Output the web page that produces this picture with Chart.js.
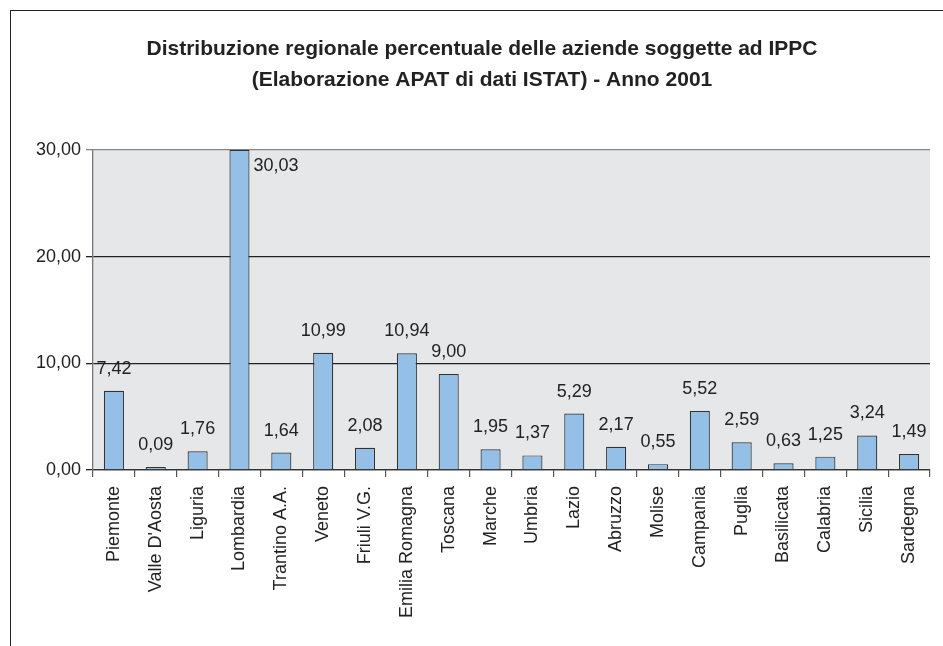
<!DOCTYPE html>
<html>
<head>
<meta charset="utf-8">
<script src="https://cdn.jsdelivr.net/npm/chart.js@4/dist/chart.umd.min.js"></script>
<style>
  html, body { margin: 0; padding: 0; background: #fff; }
  #wrap { position: relative; width: 943px; height: 646px; }
  #frame { position: absolute; left: 10px; top: 10px; width: 940px; height: 640px;
           border-top: 1.5px solid #222; border-left: 1.5px solid #222; }
  canvas { position: absolute; left: 0; top: 0; }
</style>
</head>
<body>
<div id="wrap">
  <div id="frame"></div>
  <canvas id="chart" width="943" height="646"></canvas>
</div>
<script>
const regions = ["Piemonte", "Valle D'Aosta", "Liguria", "Lombardia", "Trantino A.A.", "Veneto",
  "Friuli V.G.", "Emilia Romagna", "Toscana", "Marche", "Umbria", "Lazio", "Abruzzo", "Molise",
  "Campania", "Puglia", "Basilicata", "Calabria", "Sicilia", "Sardegna"];
const percentages = [7.42, 0.09, 1.76, 30.03, 1.64, 10.99, 2.08, 10.94, 9.00, 1.95, 1.37, 5.29,
  2.17, 0.55, 5.52, 2.59, 0.63, 1.25, 3.24, 1.49];
const yTicks = [0, 10, 20, 30];
const titleLines = ["Distribuzione regionale percentuale delle aziende soggette ad IPPC",
  "(Elaborazione APAT di dati ISTAT) - Anno 2001"];

const fmt = v => v.toFixed(2).replace('.', ',');
const FONT = "Arial, 'Liberation Sans', sans-serif";

// grey plot background
const plotBg = {
  id: 'plotBg',
  beforeDraw(chart) {
    const { ctx, chartArea: a } = chart;
    ctx.save();
    ctx.fillStyle = '#e6e7e9';
    ctx.fillRect(a.left, a.top, a.right - a.left, a.bottom - a.top);
    ctx.restore();
  }
};

// value labels above the bars (beside the bar when it runs past the top)
const valueLabels = {
  id: 'valueLabels',
  afterDatasetsDraw(chart) {
    const { ctx, chartArea } = chart;
    const meta = chart.getDatasetMeta(0);
    ctx.save();
    ctx.font = '18px ' + FONT;
    ctx.fillStyle = '#222';
    meta.data.forEach((bar, i) => {
      const txt = fmt(percentages[i]);
      if (bar.y - 24 < chartArea.top) {
        ctx.textAlign = 'left';
        ctx.textBaseline = 'middle';
        ctx.fillText(txt, bar.x + bar.width / 2 + 4, chartArea.top + 16);
      } else {
        ctx.textAlign = 'center';
        ctx.textBaseline = 'alphabetic';
        ctx.fillText(txt, bar.x, bar.y - 17);
      }
    });
    ctx.restore();
  }
};

new Chart(document.getElementById('chart'), {
  type: 'bar',
  data: {
    labels: regions,
    datasets: [{
      data: percentages,
      backgroundColor: '#94bfe7',
      borderColor: '#333',
      borderWidth: 1.2,
      barPercentage: 0.48,
      categoryPercentage: 1,
      minBarLength: 3,
      clip: false
    }]
  },
  options: {
    responsive: false,
    animation: false,
    devicePixelRatio: 1,
    layout: { padding: { left: 34, right: 13, top: 0, bottom: 0 } },
    plugins: {
      legend: { display: false },
      tooltip: { enabled: false },
      title: {
        display: true,
        text: titleLines,
        color: '#222',
        font: { family: FONT, size: 21, weight: 'bold', lineHeight: 31 / 21 },
        padding: { top: 34, bottom: 54 }
      }
    },
    scales: {
      x: {
        grid: { offset: true, drawOnChartArea: false, tickLength: 7, color: '#555', lineWidth: 1.2 },
        border: { color: '#333', width: 1.3 },
        ticks: {
          autoSkip: false, maxRotation: 90, minRotation: 90, padding: 9,
          color: '#222', font: { family: FONT, size: 18 }
        },
        afterFit(scale) { scale.height = 176; }
      },
      y: {
        min: 0, max: 30,
        afterBuildTicks(scale) { scale.ticks = yTicks.map(v => ({ value: v })); },
        grid: {
          tickLength: 7, lineWidth: 1.3,
          color: c => (c.tick && c.tick.value === 30) ? '#888' : '#222'
        },
        border: { color: '#777', width: 1.3 },
        ticks: {
          padding: 5, color: '#222', font: { family: FONT, size: 18 },
          callback: v => fmt(v)
        },
        afterFit(scale) { scale.width = 59; }
      }
    }
  },
  plugins: [plotBg, valueLabels]
});
</script>
</body>
</html>
